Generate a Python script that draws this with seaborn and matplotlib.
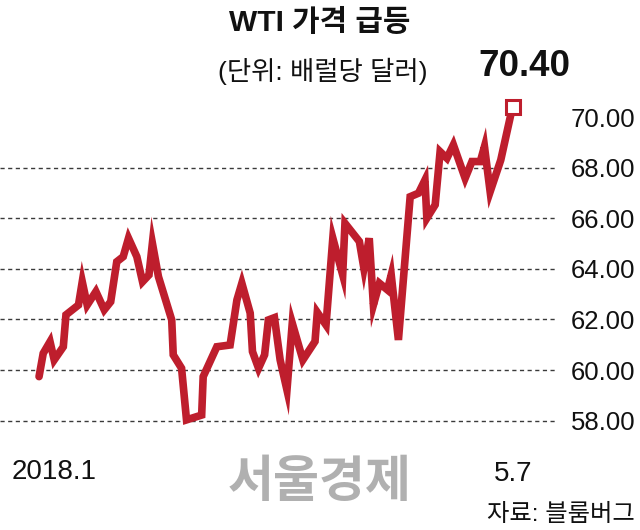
import matplotlib
matplotlib.use("Agg")
import matplotlib.pyplot as plt
import numpy as np
import pandas as pd
import seaborn as sns

# ---- data ----
day = [0, 1.1, 2.9, 4.0, 6.4, 7.1, 10.4, 11.4, 12.7, 15.0, 17.2, 18.9, 20.5, 22.2,
       23.6, 25.8, 27.3, 29.0, 29.9, 31.5, 35.0, 35.4, 37.6, 38.9, 42.9, 43.3, 46.9,
       50.4, 52.2, 53.5, 55.7, 56.3, 57.9, 59.5, 60.5, 62.1, 63.6, 65.4, 66.8, 69.6,
       72.8, 73.4, 75.7, 77.5, 80.1, 80.7, 84.5, 85.7, 87.1, 88.2, 89.8, 91.9, 92.9,
       94.8, 97.9, 100.1, 101.8, 102.3, 104.5, 105.8, 107.6, 109.3, 112.4, 114.2,
       116.4, 117.5, 119.0, 121.8, 124.9]
price = [59.74, 60.66, 61.12, 60.40, 60.92, 62.18, 62.57, 63.49, 62.57, 63.10, 62.38,
         62.70, 64.28, 64.48, 65.21, 64.48, 63.49, 63.76, 65.01, 63.69, 61.98, 60.60,
         60.07, 58.03, 58.22, 59.74, 60.92, 60.99, 62.77, 63.43, 62.25, 60.73, 60.07,
         60.60, 61.98, 62.07, 60.40, 59.21, 61.85, 60.40, 61.13, 62.28, 61.78, 65.21,
         63.76, 65.80, 65.08, 64.02, 65.21, 62.57, 63.43, 63.17, 63.76, 61.19, 66.85,
         66.99, 67.51, 66.00, 66.53, 68.63, 68.37, 68.90, 67.58, 68.24, 68.24, 68.83,
         67.05, 68.30, 70.40]
y_ticks = [58, 60, 62, 64, 66, 68, 70]
x_labels = ["2018.1", "5.7"]
title = "WTI 가격 급등"
unit_text = "(단위: 배럴당 달러)"
last_label = "70.40"
watermark = "서울경제"
source = "자료: 블룸버그"

RED = "#BE1E2D"

sns.set_theme(style="white")
plt.rcParams["font.family"] = ["Liberation Sans", "Noto Sans CJK KR", "DejaVu Sans"]

W, H = 640, 530
fig = plt.figure(figsize=(W / 100, H / 100), dpi=100)
fig.patch.set_facecolor("white")


def fx(px):
    return px / W


def fy(py):
    return 1 - py / H


ax = fig.add_axes([0, fy(430), fx(558), fy(95) - fy(430)])
ax.set_facecolor("white")

df = pd.DataFrame({"day": day, "price": price})
sns.lineplot(data=df, x="day", y="price", color=RED, linewidth=5.5, ax=ax,
             solid_joinstyle="miter", zorder=3)
ax.plot(day[-1], price[-1], marker="s", ms=10, mfc="white", mec=RED, mew=2.2,
        zorder=4, clip_on=False)

ax.set_xlim(-10.3, 136.9)
ax.set_ylim(57.63, 70.87)
ax.set_yticks(y_ticks)
ax.set_yticklabels([f"{v:.2f}" for v in y_ticks])
ax.yaxis.tick_right()
ax.tick_params(axis="y", length=0, pad=9, labelsize=18.5, labelcolor="#111111")
ax.set_xticks([])
ax.set_xlabel("")
ax.set_ylabel("")
ax.yaxis.grid(True, linestyle=(0, (3, 2.5)), color="#3a3a3a", linewidth=1.0)
ax.xaxis.grid(False)
# no dashed line at the top (70) level
gl = ax.get_ygridlines()
gl[-1].set_visible(False)
for s in ax.spines.values():
    s.set_visible(False)

# texts
fig.text(fx(320), fy(23), title, ha="center", va="center", fontsize=21.5,
         fontweight="bold", color="#111111")
fig.text(fx(323), fy(71), unit_text, ha="center", va="center", fontsize=19,
         color="#111111")
fig.text(fx(524), fy(67), last_label, ha="center", va="center", fontsize=26.5,
         fontweight="bold", color="#111111")
fig.text(fx(12), fy(472), x_labels[0], ha="left", va="center", fontsize=20,
         color="#111111")
fig.text(fx(513), fy(474), x_labels[1], ha="center", va="center", fontsize=20,
         color="#111111")
fig.text(fx(320), fy(484), watermark, ha="center", va="center", fontsize=36,
         fontweight="bold", color="#B0B0B0")
fig.text(fx(635), fy(515), source, ha="right", va="center", fontsize=17.5,
         color="#111111")

fig.savefig("out.png", dpi=100, facecolor="white")
